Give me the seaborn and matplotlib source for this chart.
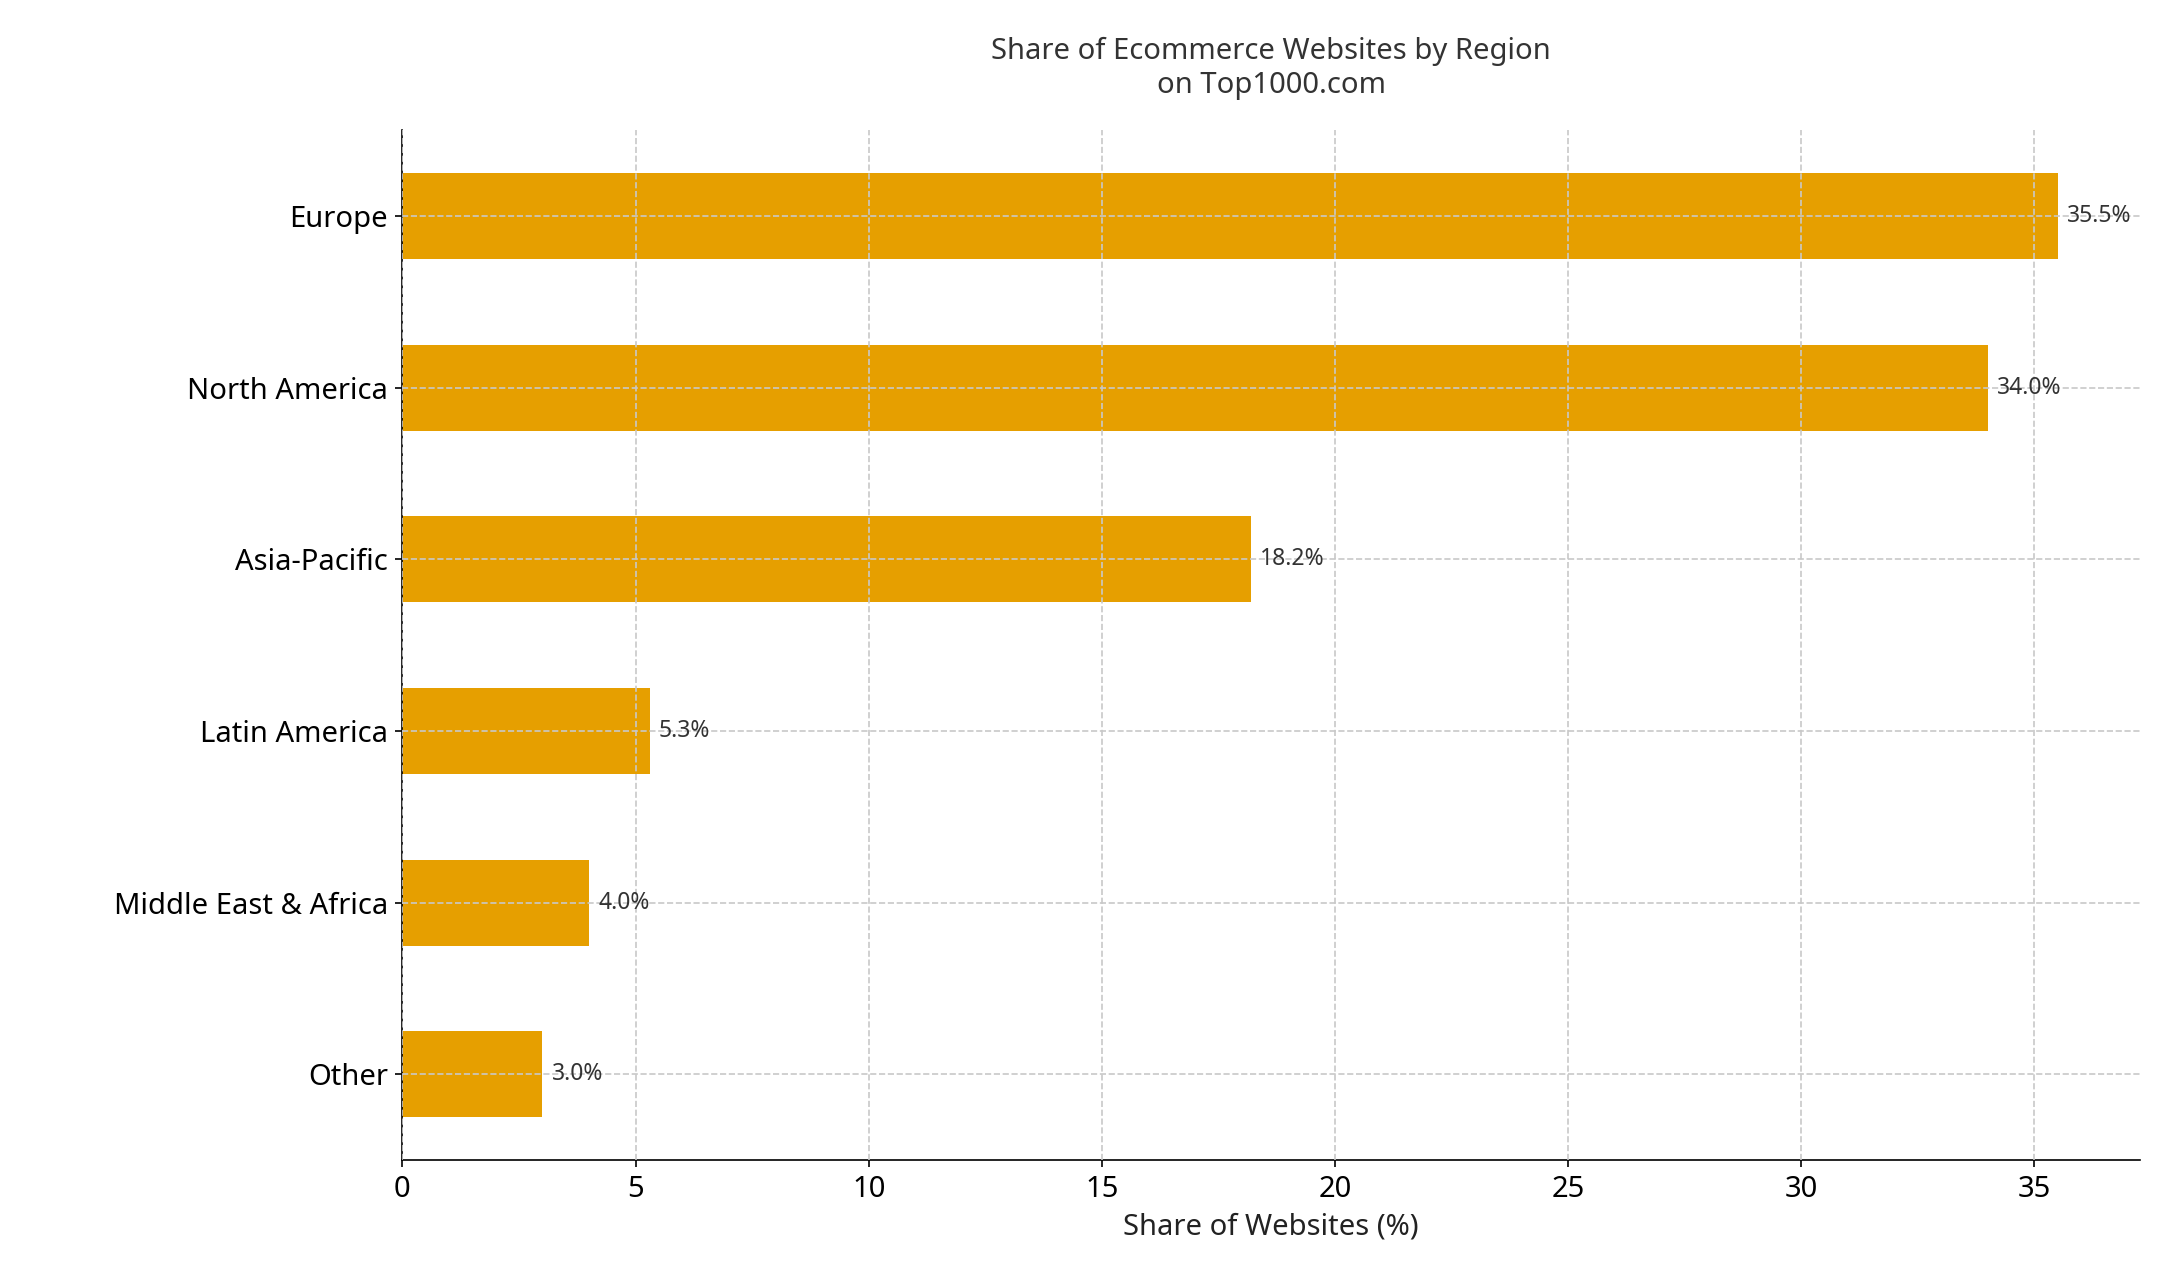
import matplotlib
matplotlib.use("Agg")
import matplotlib.pyplot as plt
import seaborn as sns
import pandas as pd

regions = ["Europe", "North America", "Asia-Pacific", "Latin America", "Middle East & Africa", "Other"]
shares = [35.5, 34.0, 18.2, 5.3, 4.0, 3.0]

df = pd.DataFrame({"Region": regions, "Share": shares})
plt.rcParams["font.family"] = "Noto Sans"
fig = plt.figure(figsize=(14.5, 8.5), dpi=150)
ax = fig.add_axes([0.185, 0.09, 0.799, 0.808])
sns.barplot(data=df, x="Share", y="Region", color="#E69F00", saturation=1, width=0.5, ax=ax, zorder=0)
ax.set_axisbelow(False)
ax.grid(True, linestyle="--", color="#c8c8c8", linewidth=0.8, zorder=1)
for p in ax.patches:
    p.set_zorder(2)
ax.set_xlim(0, 37.27)
for i, v in enumerate(shares):
    ax.text(v + 0.2, i, f"{v:.1f}%", va="center", ha="left", fontsize=11, color="#333333", zorder=3)
ax.set_title("Share of Ecommerce Websites by Region\non Top1000.com", fontsize=14, color="#333333", pad=18)
ax.set_xlabel("Share of Websites (%)", fontsize=14, color="#222222")
ax.set_ylabel("")
ax.tick_params(labelsize=14)
sns.despine(ax=ax)
fig.savefig("out.png", dpi=150)
